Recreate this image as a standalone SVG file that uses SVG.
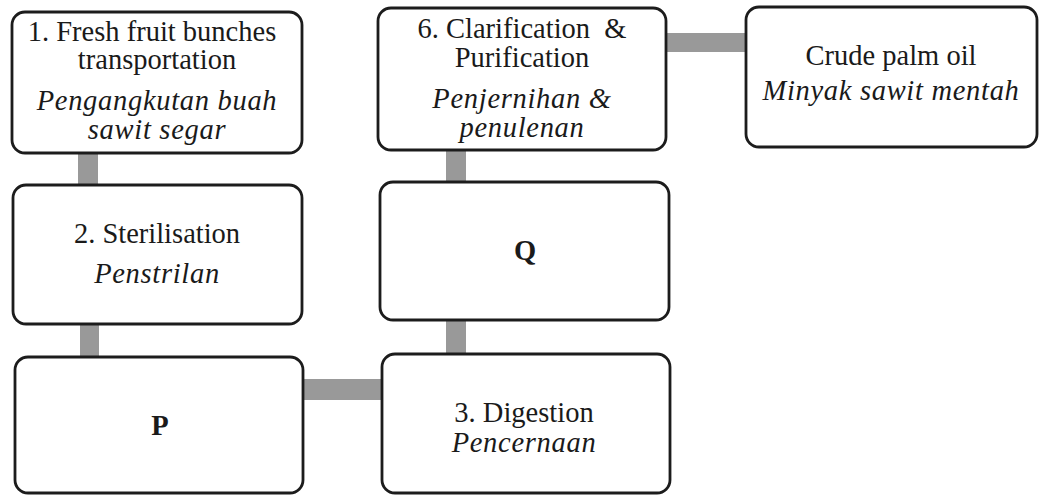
<svg xmlns="http://www.w3.org/2000/svg" width="1043" height="496" viewBox="0 0 1043 496">
<style>
.box{fill:#fff;stroke:#1c1c1c;stroke-width:2.8}
.conn{fill:#999}
text{font-family:"Liberation Serif","Times New Roman",serif;font-size:28.5px;fill:#1a1a1a;text-anchor:middle}
.it{font-style:italic;letter-spacing:0.7px}
.b{font-weight:bold}
</style>
<rect width="1043" height="496" fill="#fff"/>
<g id="connectors">
<rect class="conn" x="78" y="152" width="20" height="34"/>
<rect class="conn" x="80" y="323" width="19" height="36"/>
<rect class="conn" x="302" y="379" width="81" height="21"/>
<rect class="conn" x="446" y="319" width="20" height="35"/>
<rect class="conn" x="446" y="149" width="20" height="34"/>
<rect class="conn" x="665" y="33" width="82" height="19"/>
</g>
<g id="node1">
<rect class="box" x="12" y="12" width="290" height="141" rx="13"/>
<text x="152" y="41">1. Fresh fruit bunches</text>
<text x="157" y="69">transportation</text>
<text class="it" x="157" y="110">Pengangkutan buah</text>
<text class="it" x="157" y="139">sawit segar</text>
</g>
<g id="node2">
<rect class="box" x="13" y="185" width="289" height="139" rx="13"/>
<text x="157" y="243">2. Sterilisation</text>
<text class="it" x="157" y="283">Penstrilan</text>
</g>
<g id="nodeP">
<rect class="box" x="15" y="357" width="288" height="136" rx="13"/>
<text class="b" x="160" y="435">P</text>
</g>
<g id="node3">
<rect class="box" x="382" y="354" width="288" height="139" rx="13"/>
<text x="524" y="422">3. Digestion</text>
<text class="it" x="524" y="452">Pencernaan</text>
</g>
<g id="nodeQ">
<rect class="box" x="380" y="182" width="289" height="138" rx="13"/>
<text class="b" x="525" y="260">Q</text>
</g>
<g id="node6">
<rect class="box" x="378" y="8" width="288" height="142" rx="13"/>
<text x="522" y="38" style="white-space:pre">6. Clarification  &amp;</text>
<text x="522" y="67">Purification</text>
<text class="it" x="522" y="108">Penjernihan &amp;</text>
<text class="it" x="522" y="137">penulenan</text>
</g>
<g id="node7">
<rect class="box" x="746" y="7" width="291" height="140" rx="13"/>
<text x="891" y="65">Crude palm oil</text>
<text class="it" x="891" y="100">Minyak sawit mentah</text>
</g>
</svg>
